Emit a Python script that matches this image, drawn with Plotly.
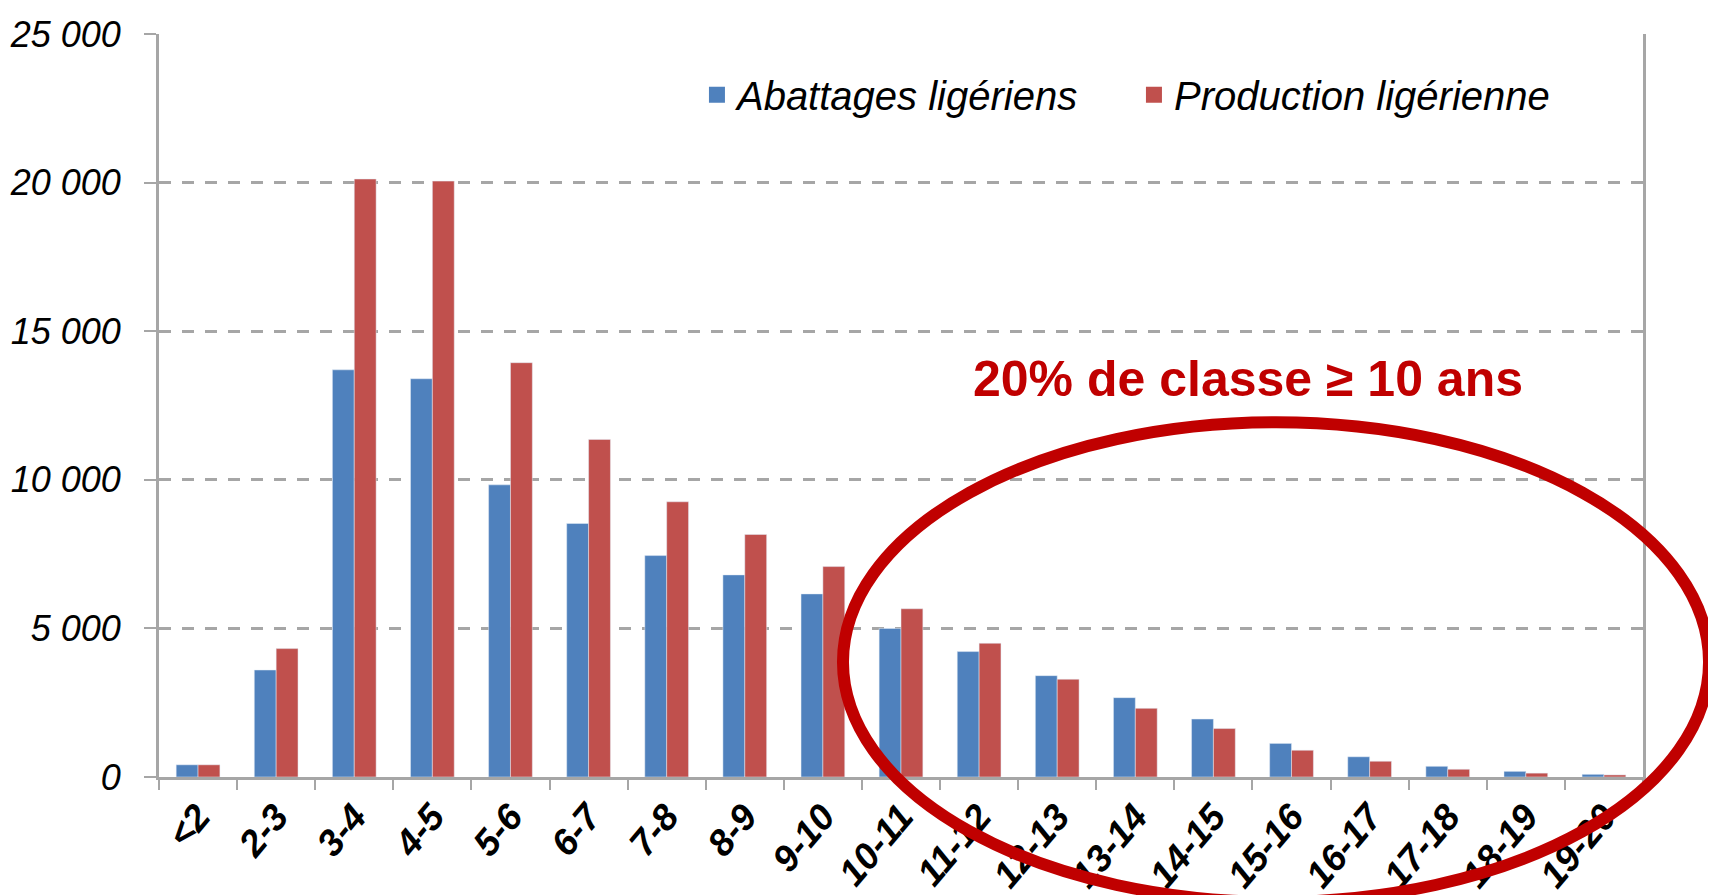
import plotly.graph_objects as go

categories = ["<2", "2-3", "3-4", "4-5", "5-6", "6-7", "7-8", "8-9", "9-10", "10-11",
              "11-12", "12-13", "13-14", "14-15", "15-16", "16-17", "17-18", "18-19", "19-20"]
abattages = [410, 3600, 13700, 13400, 9830, 8530, 7450, 6800, 6160, 5000,
             4220, 3410, 2670, 1950, 1130, 680, 360, 190, 90]
production = [410, 4320, 20120, 20050, 13940, 11360, 9260, 8160, 7080, 5660,
              4500, 3290, 2310, 1630, 900, 530, 260, 130, 70]
y_ticks = [0, 5000, 10000, 15000, 20000, 25000]

BLUE = "#4F81BD"
RED = "#C0504D"
DARKRED = "#C00000"
GRAY = "#A6A6A6"
FONT = "Arial, Liberation Sans, sans-serif"

fig = go.Figure()
fig.add_trace(go.Bar(x=categories, y=abattages, name="Abattages ligériens",
                     marker=dict(color=BLUE), showlegend=False))
fig.add_trace(go.Bar(x=categories, y=production, name="Production ligérienne",
                     marker=dict(color=RED), showlegend=False))
# legend proxies (square markers)
fig.add_trace(go.Scatter(x=[None], y=[None], mode="markers", name="Abattages ligériens",
                         marker=dict(symbol="square", size=18, color=BLUE)))
fig.add_trace(go.Scatter(x=[None], y=[None], mode="markers", name="Production ligérienne",
                         marker=dict(symbol="square", size=18, color=RED)))

# the page body has an 8px margin, so the margins compensate for it
fig.update_layout(
    width=1716, height=895,
    margin=dict(l=151, r=81, t=26, b=126),
    paper_bgcolor="white", plot_bgcolor="white",
    barmode="group", bargap=0.44, bargroupgap=0.0,
    separators=", ",
    font=dict(family=FONT, color="black"),
    legend=dict(orientation="h", x=0.3625, y=0.962, xanchor="left", yanchor="top",
                font=dict(size=40, style="italic", color="black"),
                entrywidth=392, itemsizing="trace", bgcolor="rgba(0,0,0,0)"),
    xaxis=dict(
        type="category", categoryorder="array", categoryarray=categories,
        showline=True, linecolor=GRAY, linewidth=3,
        ticks="outside", tickson="boundaries", ticklen=10, tickwidth=2, tickcolor=GRAY,
        tickangle=-50, showgrid=False, automargin=False,
        tickfont=dict(size=37, style="italic", weight="bold", color="black"),
    ),
    yaxis=dict(
        range=[0, 25000], tickvals=y_ticks, tickformat=",d",
        showline=True, linecolor=GRAY, linewidth=3, mirror=True,
        ticks="outside", ticklen=12, tickwidth=2, tickcolor=GRAY,
        showgrid=True, gridcolor=GRAY, gridwidth=3, griddash="12px,11px",
        zeroline=False, automargin=False,
        tickfont=dict(size=36, style="italic", color="black"),
        ticklabelstandoff=16,
    ),
)

fig.add_annotation(text="20% de classe ≥ 10 ans", xref="paper", yref="paper",
                   x=0.734, y=0.536, xanchor="center", yanchor="middle", showarrow=False,
                   font=dict(size=50, color=DARKRED, weight="bold", family=FONT))

fig.add_shape(type="circle", xref="paper", yref="paper",
              x0=0.4609, x1=1.0445, y0=-0.168, y1=0.4775,
              line=dict(color=DARKRED, width=12), layer="above")

fig.write_html("out.html")
